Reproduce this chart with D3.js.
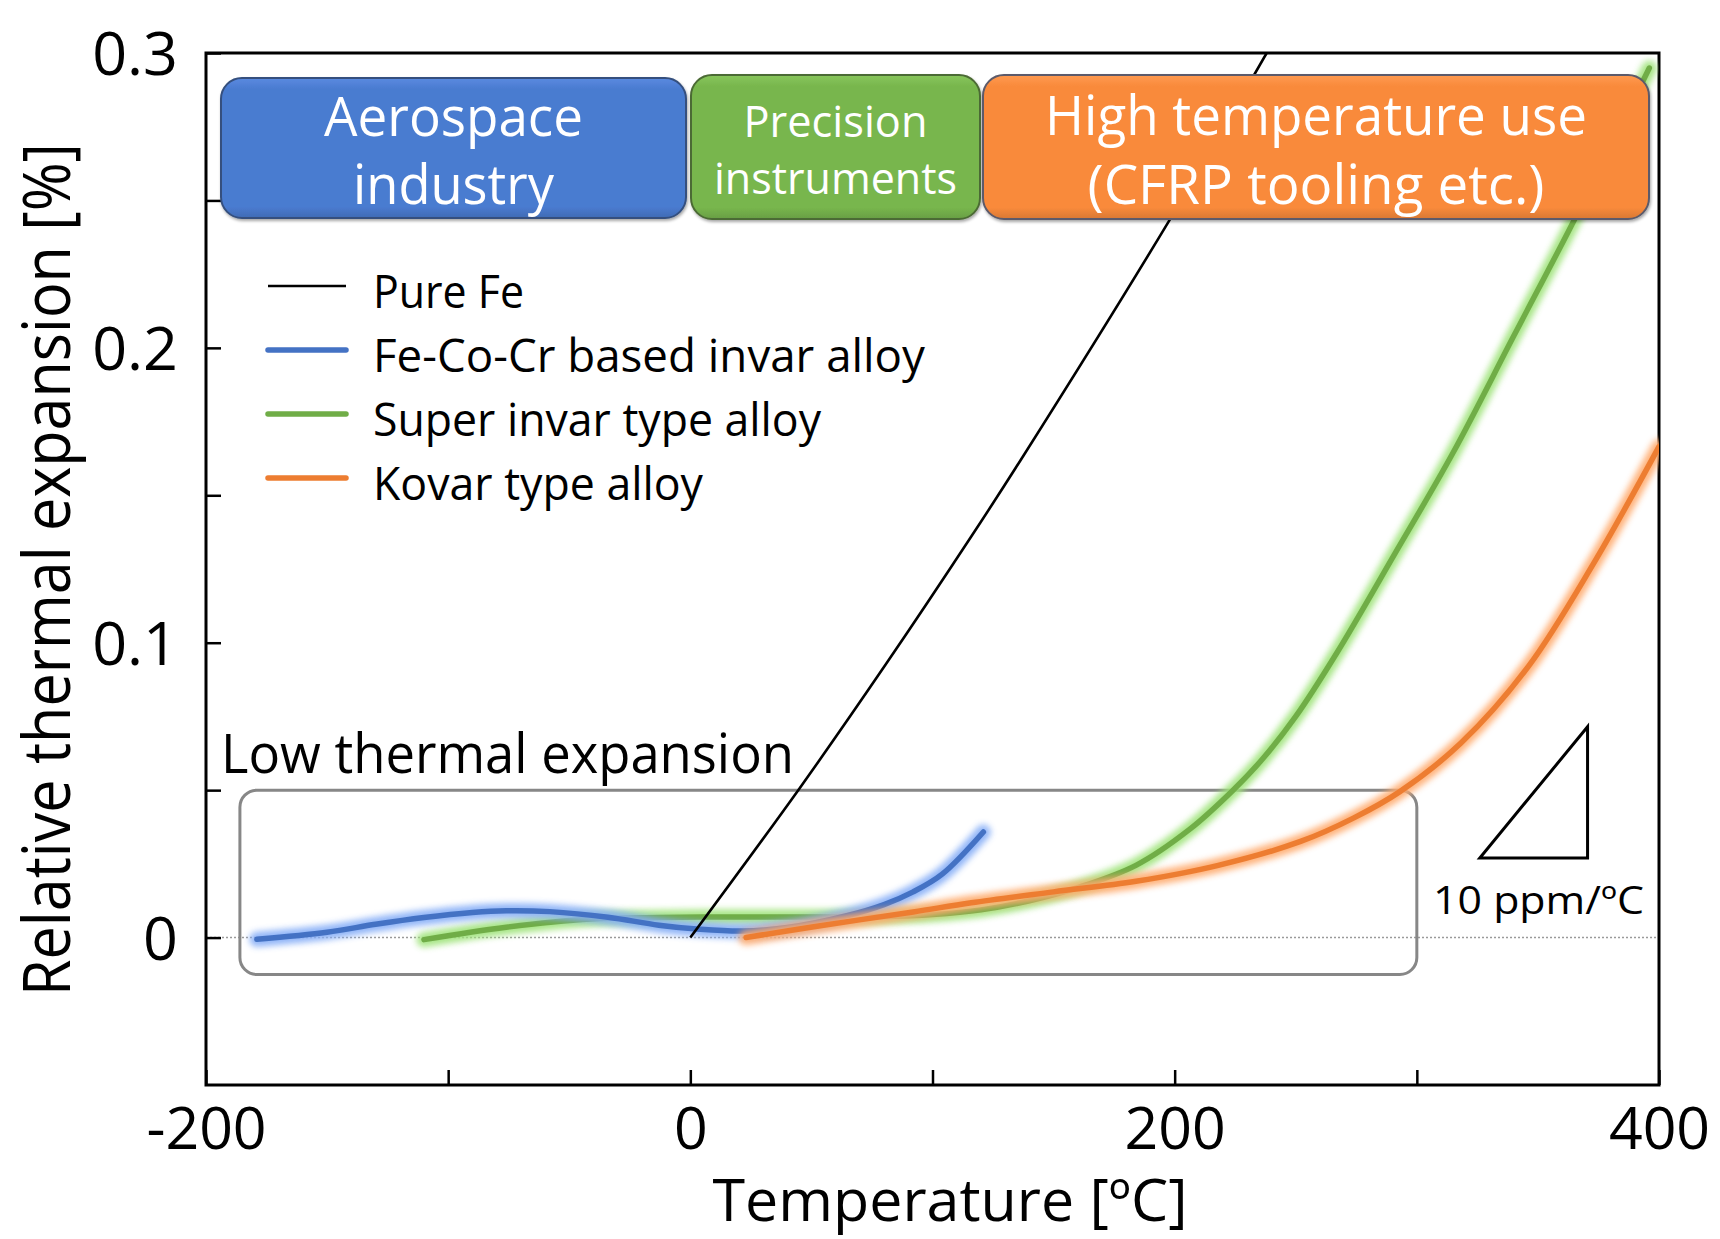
<!DOCTYPE html>
<html>
<head>
<meta charset="utf-8">
<script src="https://cdn.jsdelivr.net/npm/d3@7"></script>
<style>
  html, body { margin: 0; padding: 0; background: #fff; }
  svg { display: block; }
  text { font-family: "Open Sans", "Noto Sans", sans-serif; }
</style>
</head>
<body>
<svg id="chart" width="1720" height="1239"></svg>
<script>
// ---------------- data ----------------
const pureFeT   = [0, 45, 81, 116, 138, 198, 238, 245];
const pureFeV   = [0, 0.0505, 0.093, 0.136, 0.164, 0.2435, 0.300, 0.310];

const fecocrT   = [-179, -150, -130, -110, -90, -76, -58, -34, -13, 4, 22, 40, 65, 80, 92, 104, 121];
const fecocrV   = [-0.0006, 0.0018, 0.0045, 0.0068, 0.0085, 0.0091, 0.0088, 0.0069, 0.0042, 0.0028, 0.0022, 0.0034, 0.0075, 0.0112, 0.0155, 0.0215, 0.0358];

const superT    = [-110, -76, -41, -13, 20, 50, 78, 100, 120, 140, 161, 184, 206, 224, 236, 250, 267, 291, 315, 340, 365, 396];
const superV    = [-0.0007, 0.0035, 0.0063, 0.0068, 0.007, 0.007, 0.0071, 0.0078, 0.0094, 0.0125, 0.0172, 0.0245, 0.0366, 0.0499, 0.0603, 0.075, 0.0966, 0.1303, 0.1645, 0.204, 0.2434, 0.2949];

const kovarT    = [23, 51, 92, 116, 150, 184, 218, 252, 274, 293, 318, 346, 373, 400];
const kovarV    = [0, 0.0037, 0.0087, 0.0118, 0.0155, 0.0191, 0.0245, 0.0326, 0.0406, 0.0495, 0.0658, 0.0919, 0.1269, 0.1665];

const seriesNames = ["Pure Fe", "Fe-Co-Cr based invar alloy", "Super invar type alloy", "Kovar type alloy"];

const xTickValues = [-200, -100, 0, 100, 200, 300, 400];
const xTickLabels = ["-200", "", "0", "", "200", "", "400"];
const yTickValues = [0, 0.05, 0.1, 0.15, 0.2, 0.25, 0.3];
const yTickLabels = ["0", "", "0.1", "", "0.2", "", "0.3"];

const useCases = ["Aerospace|industry", "Precision|instruments", "High temperature use|(CFRP tooling etc.)"];

// low thermal expansion region (data units)
const lowRegionT = [-186, 300];
const lowRegionV = [-0.0125, 0.05];

// slope triangle: 10 ppm/°C
const triT = [326, 370.5, 370.5];
const triV = [0.027, 0.027, 0.0715];

// ---------------- layout ----------------
const svg = d3.select("#chart");
const L = 206, R = 1659, T = 53, B = 1085;
const x = d3.scaleLinear().domain([-200, 400]).range([L, R]);
const y = d3.scaleLinear().domain([-0.05, 0.3]).range([B, T]);

const defs = svg.append("defs");
defs.append("clipPath").attr("id", "plotClip")
  .append("rect").attr("x", L).attr("y", T).attr("width", R - L).attr("height", B - T);
const glow = defs.append("filter").attr("id", "glow")
  .attr("x", "-20%").attr("y", "-20%").attr("width", "140%").attr("height", "140%");
glow.append("feGaussianBlur").attr("stdDeviation", 3.4);

const shadow = defs.append("filter").attr("id", "shadow")
  .attr("x", "-5%").attr("y", "-10%").attr("width", "110%").attr("height", "125%");
shadow.append("feDropShadow").attr("dx", 1).attr("dy", 2).attr("stdDeviation", 1.5)
  .attr("flood-color", "#000").attr("flood-opacity", 0.35);

// zero dotted line
svg.append("line")
  .attr("x1", L).attr("x2", R).attr("y1", y(0)).attr("y2", y(0))
  .attr("stroke", "#9a9a9a").attr("stroke-width", 1.5).attr("stroke-dasharray", "2,2");

// axes with inward ticks
const xAxis = d3.axisBottom(x).tickValues(xTickValues)
  .tickFormat((d, i) => xTickLabels[i]).tickSizeInner(-15).tickSizeOuter(0).tickPadding(22);
const yAxis = d3.axisLeft(y).tickValues(yTickValues)
  .tickFormat((d, i) => yTickLabels[i]).tickSizeInner(-15).tickSizeOuter(0).tickPadding(28);

const gx = svg.append("g").attr("transform", `translate(0,${B})`).call(xAxis);
const gy = svg.append("g").attr("transform", `translate(${L},0)`).call(yAxis);
[gx, gy].forEach(g => {
  g.select(".domain").remove();
  g.selectAll(".tick line").attr("stroke", "#000").attr("stroke-width", 2.5);
  g.selectAll(".tick text").attr("fill", "#000")
    .style("font-family", '"Open Sans", sans-serif');
});
gx.selectAll(".tick text").style("font-size", "59px");
gy.selectAll(".tick text").style("font-size", "61px").attr("dy", "0.36em");

// frame
svg.append("rect").attr("x", L).attr("y", T).attr("width", R - L).attr("height", B - T)
  .attr("fill", "none").attr("stroke", "#000").attr("stroke-width", 3);

// low thermal expansion box
svg.append("rect")
  .attr("x", x(lowRegionT[0])).attr("y", y(lowRegionV[1]))
  .attr("width", x(lowRegionT[1]) - x(lowRegionT[0]))
  .attr("height", y(lowRegionV[0]) - y(lowRegionV[1]))
  .attr("rx", 17).attr("fill", "none").attr("stroke", "#878787").attr("stroke-width", 3);

svg.append("text").attr("x", 221).attr("y", 773)
  .attr("textLength", 573).attr("lengthAdjust", "spacingAndGlyphs")
  .style("font-size", "54px").attr("fill", "#000").text("Low thermal expansion");

// slope triangle
svg.append("path")
  .attr("d", d3.line().x((d, i) => x(triT[i])).y((d, i) => y(triV[i]))(triT) + "Z")
  .attr("fill", "none").attr("stroke", "#000").attr("stroke-width", 3);
svg.append("text").attr("x", 1433).attr("y", 914)
  .attr("textLength", 211).attr("lengthAdjust", "spacingAndGlyphs")
  .style("font-size", "39px").attr("fill", "#000").text("10 ppm/ºC");

// curves
const plot = svg.append("g").attr("clip-path", "url(#plotClip)");
const line = d3.line().curve(d3.curveCatmullRom.alpha(0.5));
function pts(ts, vs) { return ts.map((t, i) => [x(t), y(vs[i])]); }

const curves = [
  { t: superT, v: superV, core: "#70AD47", halo: "#9fe37a" },
  { t: fecocrT, v: fecocrV, core: "#4472C4", halo: "#86aef7" },
  { t: kovarT, v: kovarV, core: "#ED7D31", halo: "#ffab6e" }
];
curves.forEach(c => {
  const d = line(pts(c.t, c.v));
  plot.append("path").attr("d", d).attr("fill", "none").attr("stroke", c.halo)
    .attr("stroke-width", 15).attr("stroke-linecap", "round").attr("opacity", 0.9)
    .attr("filter", "url(#glow)");
  plot.append("path").attr("d", d).attr("fill", "none").attr("stroke", c.core)
    .attr("stroke-width", 5.5).attr("stroke-linecap", "round");
});
plot.append("path").attr("d", line(pts(pureFeT, pureFeV)))
  .attr("fill", "none").attr("stroke", "#000").attr("stroke-width", 2.6);

// use-case boxes
const boxes = [
  { x0: 221, x1: 686, y0: 78, y1: 218, fill: "#4a7bd0", top: "#5b8ae0", stroke: "#34507e", fs: 54, widths: [259, 201], base: [136, 204] },
  { x0: 691, x1: 980, y0: 75, y1: 219, fill: "#78b64d", top: "#88c65c", stroke: "#4c6b34", fs: 44, widths: [184, 243], base: [136.5, 194] },
  { x0: 983, x1: 1649, y0: 75, y1: 219, fill: "#f98a3b", top: "#ff9a50", stroke: "#5c5a6a", fs: 55, widths: [542, 457], base: [134.5, 203.5] }
];
boxes.forEach((b, i) => {
  const gid = "grad" + i;
  const gr = defs.append("linearGradient").attr("id", gid).attr("x1", 0).attr("y1", 0).attr("x2", 0).attr("y2", 1);
  gr.append("stop").attr("offset", "0%").attr("stop-color", b.top);
  gr.append("stop").attr("offset", "8%").attr("stop-color", b.fill);
  gr.append("stop").attr("offset", "92%").attr("stop-color", b.fill);
  gr.append("stop").attr("offset", "100%").attr("stop-color", d3.color(b.fill).darker(0.4));
  svg.append("rect").attr("x", b.x0).attr("y", b.y0).attr("width", b.x1 - b.x0).attr("height", b.y1 - b.y0)
    .attr("rx", 21).attr("fill", `url(#${gid})`).attr("stroke", b.stroke).attr("stroke-width", 2)
    .attr("filter", "url(#shadow)");
  const lines = useCases[i].split("|");
  const cx = (b.x0 + b.x1) / 2;
  lines.forEach((s, j) => {
    svg.append("text").attr("x", cx).attr("y", b.base[j]).attr("text-anchor", "middle")
      .attr("textLength", b.widths[j]).attr("lengthAdjust", "spacingAndGlyphs")
      .style("font-size", b.fs + "px").attr("fill", "#fff").text(s);
  });
});

// legend
const legendStyles = [
  { core: "#000", halo: null, w: 2.6 },
  { core: "#4472C4", halo: "#86aef7", w: 5.5 },
  { core: "#70AD47", halo: "#9fe37a", w: 5.5 },
  { core: "#ED7D31", halo: "#ffab6e", w: 5.5 }
];
const legendWidths = [151, 552, 448, 330];
seriesNames.forEach((name, i) => {
  const base = 308 + i * 64;
  const ly = base - 22;
  const st = legendStyles[i];
  if (st.halo) {
    svg.append("line").attr("x1", 268).attr("x2", 346).attr("y1", ly).attr("y2", ly)
      .attr("stroke", st.halo).attr("stroke-width", 15).attr("stroke-linecap", "round")
      .attr("opacity", 0.9).attr("filter", "url(#glow)");
  }
  svg.append("line").attr("x1", 268).attr("x2", 346).attr("y1", ly).attr("y2", ly)
    .attr("stroke", st.core).attr("stroke-width", st.w).attr("stroke-linecap", st.halo ? "round" : "butt");
  svg.append("text").attr("x", 373).attr("y", base)
    .attr("textLength", legendWidths[i]).attr("lengthAdjust", "spacingAndGlyphs")
    .style("font-size", "46px").attr("fill", "#000").text(name);
});

// axis titles
svg.append("text").attr("x", 950).attr("y", 1221).attr("text-anchor", "middle")
  .attr("textLength", 475).attr("lengthAdjust", "spacingAndGlyphs")
  .style("font-size", "58px").attr("fill", "#000").text("Temperature [ºC]");
svg.append("text").attr("transform", "translate(70,569.5) rotate(-90)").attr("text-anchor", "middle")
  .attr("textLength", 853).attr("lengthAdjust", "spacingAndGlyphs")
  .style("font-size", "66px").attr("fill", "#000").text("Relative thermal expansion [%]");
</script>
</body>
</html>
